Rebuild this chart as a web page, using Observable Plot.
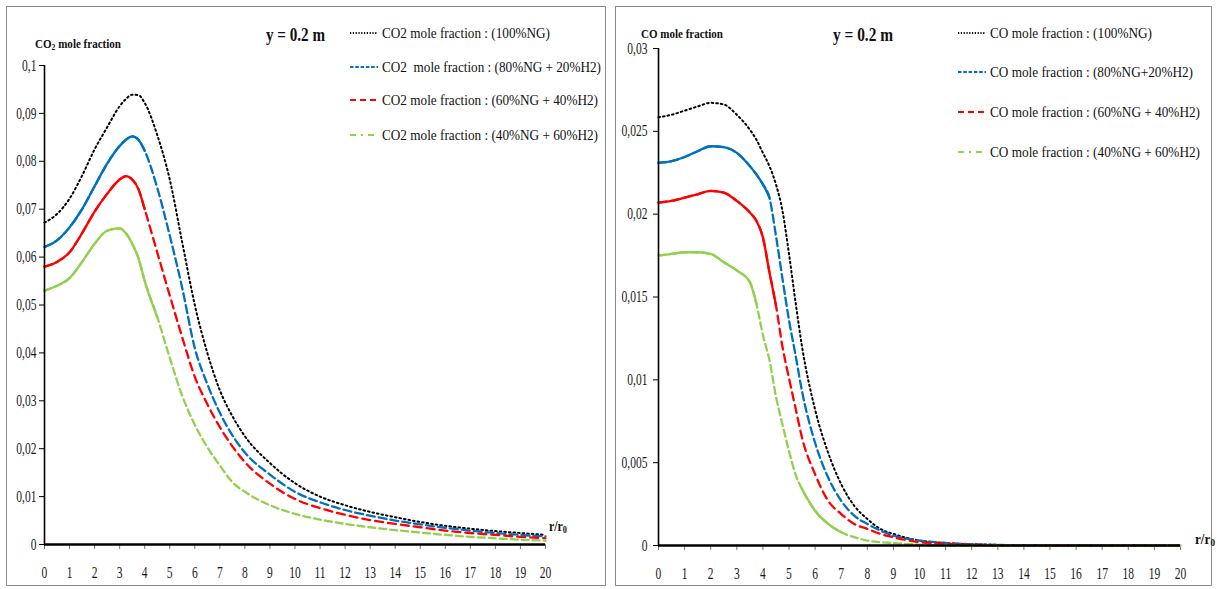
<!DOCTYPE html>
<html><head><meta charset="utf-8">
<script src="https://cdn.jsdelivr.net/npm/d3@7"></script>
<script src="https://cdn.jsdelivr.net/npm/@observablehq/plot@0.6"></script>
<style>
body{margin:0;background:#fff;width:1217px;height:589px;position:relative;overflow:hidden;font-family:"Liberation Serif","Times New Roman",serif;color:#111;}
.panel{position:absolute;border:1.5px solid #8a8a8a;box-sizing:border-box;}
.abs{position:absolute;white-space:pre;line-height:1;}
.fit{display:inline-block;transform-origin:left center;white-space:pre;}
.plotbox{position:absolute;}
</style></head><body>
<div class="panel" style="left:6px;top:6px;width:600px;height:580px"></div>
<div class="panel" style="left:615px;top:6px;width:597px;height:580px"></div>
<script>
// ---------- shared ----------
const xTicks = d3.range(0, 21);

// ---------- left panel : CO2 ----------
const rLeft = [0,0.5,1,1.5,2,2.5,3,3.25,3.5,3.75,4,4.5,5,5.5,6,6.5,7,7.5,8,9,10,11,12,13,14,15,16,17,18,19,20];
const co2_100NG = [0.0672,0.0690,0.0722,0.0770,0.0825,0.0871,0.0915,0.0930,0.0939,0.0938,0.0922,0.0855,0.0762,0.0630,0.0500,0.0400,0.0322,0.0268,0.0226,0.0170,0.0128,0.0100,0.0082,0.0068,0.0057,0.0047,0.0039,0.0033,0.0028,0.0024,0.0020];
const co2_80NG  = [0.0621,0.0635,0.0662,0.0700,0.0748,0.0795,0.0832,0.0845,0.0852,0.0845,0.0822,0.0745,0.0645,0.0535,0.0410,0.0335,0.0275,0.0228,0.0192,0.0146,0.0110,0.0088,0.0072,0.0060,0.0050,0.0042,0.0035,0.0029,0.0024,0.0020,0.0017];
const co2_60NG  = [0.0580,0.0590,0.0610,0.0650,0.0695,0.0732,0.0762,0.0769,0.0762,0.0742,0.0700,0.0610,0.0520,0.0432,0.0350,0.0293,0.0245,0.0205,0.0172,0.0127,0.0095,0.0076,0.0062,0.0051,0.0043,0.0036,0.0029,0.0024,0.0020,0.0016,0.0013];
const co2_40NG  = [0.0530,0.0540,0.0556,0.0590,0.0628,0.0655,0.0660,0.0650,0.0628,0.0598,0.0550,0.0475,0.0390,0.0310,0.0250,0.0203,0.0165,0.0130,0.0110,0.0082,0.0064,0.0052,0.0043,0.0036,0.0030,0.0025,0.0020,0.0016,0.0013,0.0010,0.0008];
const co2Ticks  = [0,0.01,0.02,0.03,0.04,0.05,0.06,0.07,0.08,0.09,0.1];
const co2Labels = ["0","0,01","0,02","0,03","0,04","0,05","0,06","0,07","0,08","0,09","0,1"];
const co2Legend = ["CO2 mole fraction : (100%NG)","CO2  mole fraction : (80%NG + 20%H2)","CO2 mole fraction : (60%NG + 40%H2)","CO2 mole fraction : (40%NG + 60%H2)"];

// ---------- right panel : CO ----------
const rRight = [0,0.5,1,1.5,2,2.5,3,3.5,3.75,4,4.25,4.5,4.75,5,5.25,5.5,6,6.5,7,7.5,8,8.5,9,10,11,12,13,14,15,16,17,18,19,20];
const co_100NG = [0.02585,0.0260,0.02625,0.0265,0.02672,0.02662,0.0260,0.0251,0.0245,0.0237,0.0229,0.0218,0.0202,0.0176,0.0147,0.0120,0.0082,0.0056,0.0037,0.0024,0.0016,0.0010,0.0007,0.0003,0.00015,0.00008,0.00004,0.00002,0,0,0,0,0,0];
const co_80NG  = [0.0231,0.0232,0.02345,0.0238,0.0241,0.02405,0.0237,0.0229,0.0224,0.0218,0.0210,0.0187,0.0161,0.0136,0.0115,0.0093,0.0062,0.0041,0.0027,0.0018,0.0013,0.0009,0.0006,0.0003,0.00015,0.00008,0.00004,0,0,0,0,0,0,0];
const co_60NG  = [0.0207,0.0208,0.0210,0.0212,0.0214,0.0213,0.0208,0.0201,0.0196,0.0186,0.0165,0.0145,0.0120,0.0101,0.0083,0.0065,0.0043,0.0027,0.0019,0.0013,0.0010,0.0007,0.0005,0.0002,0.0001,0.00005,0,0,0,0,0,0,0,0];
const co_40NG  = [0.0175,0.0176,0.0177,0.0177,0.0176,0.0171,0.0166,0.0159,0.0146,0.0127,0.0112,0.0090,0.0073,0.0057,0.0043,0.0034,0.0021,0.0013,0.0008,0.0005,0.0003,0.0002,0.00015,0.00005,0,0,0,0,0,0,0,0,0,0];
const coTicks  = [0,0.005,0.01,0.015,0.02,0.025,0.03];
const coLabels = ["0","0,005","0,01","0,015","0,02","0,025","0,03"];
const coLegend = ["CO mole fraction : (100%NG)","CO mole fraction : (80%NG+20%H2)","CO mole fraction : (60%NG + 40%H2)","CO mole fraction : (40%NG + 60%H2)"];

// ---------- styles ----------
const seriesStyle = [
  {color:"#000000", dash:"1.6,3",   legendDash:"1.2,1.6", width:2.0},
  {color:"#0070C0", dash:"8,4",     legendDash:"3.5,1.8", width:2.3},
  {color:"#FF0000", dash:"8,5",     legendDash:"6,4",     width:2.3},
  {color:"#92D050", dash:"7,4",     legendDash:"6,5,2,5", width:2.3}
];

function fitText(html, x, yc, size, width, bold) {
  const d = document.createElement("div");
  d.className = "abs";
  d.style.left = x + "px";
  d.style.top = (yc - size * 0.5) + "px";
  d.style.fontSize = size + "px";
  d.style.fontWeight = bold ? "bold" : "normal";
  const s = document.createElement("span");
  s.className = "fit";
  s.innerHTML = html;
  d.appendChild(s);
  document.body.appendChild(d);
  const w = s.getBoundingClientRect().width;
  s.style.transform = `scaleX(${width / w})`;
}

function legendSample(x1, x2, yc, st) {
  const ns = "http://www.w3.org/2000/svg";
  const svg = document.createElementNS(ns, "svg");
  svg.setAttribute("width", x2 - x1);
  svg.setAttribute("height", 6);
  svg.style.position = "absolute";
  svg.style.left = x1 + "px";
  svg.style.top = (yc - 3) + "px";
  const l = document.createElementNS(ns, "line");
  l.setAttribute("x1", 0); l.setAttribute("x2", x2 - x1);
  l.setAttribute("y1", 3); l.setAttribute("y2", 3);
  l.setAttribute("stroke", st.color);
  l.setAttribute("stroke-width", 2);
  l.setAttribute("stroke-dasharray", st.legendDash);
  svg.appendChild(l);
  document.body.appendChild(svg);
}

function condenseTicks(svg, k) {
  svg.querySelectorAll('g[aria-label$="tick label"] text').forEach(t => {
    const tr = t.getAttribute("transform");
    if (tr && tr.includes("translate")) {
      t.setAttribute("transform", tr + ` scale(${k},1)`);
    } else {
      const x = +(t.getAttribute("x") || 0), y = +(t.getAttribute("y") || 0);
      t.removeAttribute("x"); t.removeAttribute("y");
      t.setAttribute("transform", `translate(${x},${y}) scale(${k},1)` + (tr ? " " + tr : ""));
    }
  });
}

function makePanel(cfg) {
  const marks = [];
  cfg.series.forEach((vals, si) => {
    const st = seriesStyle[si];
    const rows = cfg.r.map((x, i) => ({r: x, v: vals[i]}));
    marks.push(Plot.line(rows, {x: "r", y: "v", stroke: st.color, strokeWidth: st.width,
      strokeDasharray: st.dash, curve: "monotone-x"}));
    (cfg.solid[si] || []).forEach(([a, b]) => {
      const sub = rows.filter(d => d.r >= a && d.r <= b);
      marks.push(Plot.line(sub, {x: "r", y: "v", stroke: st.color, strokeWidth: st.width, curve: "monotone-x"}));
    });
  });
  const plot = Plot.plot({
    width: cfg.width, height: cfg.height,
    marginLeft: cfg.m[0], marginRight: cfg.m[1], marginTop: cfg.m[2], marginBottom: cfg.m[3],
    style: {fontFamily: '"Liberation Serif", "Times New Roman", serif', fontSize: "16px", color: "#1a1a1a", background: "transparent", overflow: "visible"},
    x: {domain: [0, 20]},
    y: {domain: [0, cfg.yTicks[cfg.yTicks.length - 1]]},
    marks: [
      Plot.axisY({ticks: cfg.yTicks, tickFormat: d => cfg.yLabels[cfg.yTicks.indexOf(d)], tickSize: 5, tickPadding: cfg.yPad, stroke: "#000", label: null}),
      Plot.axisX({ticks: xTicks, tickFormat: d => String(d), tickSize: 5, tickPadding: 17, stroke: "#777", label: null}),
      ...marks,
      Plot.ruleX([0], {stroke: "#000", strokeWidth: 1.6}),
      Plot.ruleY([0], {stroke: "#000", strokeWidth: 2.6})
    ]
  });
  condenseTicks(plot, 0.72);
  const box = document.createElement("div");
  box.className = "plotbox";
  box.style.left = cfg.left + "px";
  box.style.top = cfg.top + "px";
  box.appendChild(plot);
  document.body.appendChild(box);
}

// left
makePanel({
  r: rLeft, series: [co2_100NG, co2_80NG, co2_60NG, co2_40NG],
  solid: [[], [[0, 4.1]], [[0, 4.3]], [[0, 4.8]]],
  yTicks: co2Ticks, yLabels: co2Labels, yPad: 3,
  left: 7, top: 7, width: 598, height: 579, m: [37, 60, 58, 42]
});
// right
makePanel({
  r: rRight, series: [co_100NG, co_80NG, co_60NG, co_40NG],
  solid: [[], [[0, 4.3]], [[0, 4.5]], [[0, 3.8], [5.5, 7.2]]],
  yTicks: coTicks, yLabels: coLabels, yPad: 6,
  left: 616, top: 7, width: 595, height: 579, m: [42, 31, 41, 41]
});

// titles
fitText("CO<sub style='font-size:0.7em;vertical-align:-0.25em'>2</sub> mole fraction", 35, 43, 13, 86, true);
fitText("CO mole fraction", 641, 33, 13, 82, true);
fitText("y = 0.2 m", 266, 34, 19, 59, true);
fitText("y = 0.2 m", 833, 34, 19, 60, true);
fitText("r/r<sub style='font-size:0.7em;vertical-align:-0.25em'>0</sub>", 549, 527, 14, 18, true);
fitText("r/r<sub style='font-size:0.7em;vertical-align:-0.25em'>0</sub>", 1195, 540, 14, 20, true);

// legends
const leftRows = [33, 67, 100, 135], leftW = [168, 219, 216, 216];
const rightRows = [33, 72, 112, 152], rightW = [162, 203, 210, 210];
co2Legend.forEach((t, i) => {
  legendSample(350, 378, leftRows[i], seriesStyle[i]);
  fitText(t, 382, leftRows[i], 15, leftW[i], false);
});
coLegend.forEach((t, i) => {
  legendSample(958, 986, rightRows[i], seriesStyle[i]);
  fitText(t, 990, rightRows[i], 15, rightW[i], false);
});
</script></body></html>
